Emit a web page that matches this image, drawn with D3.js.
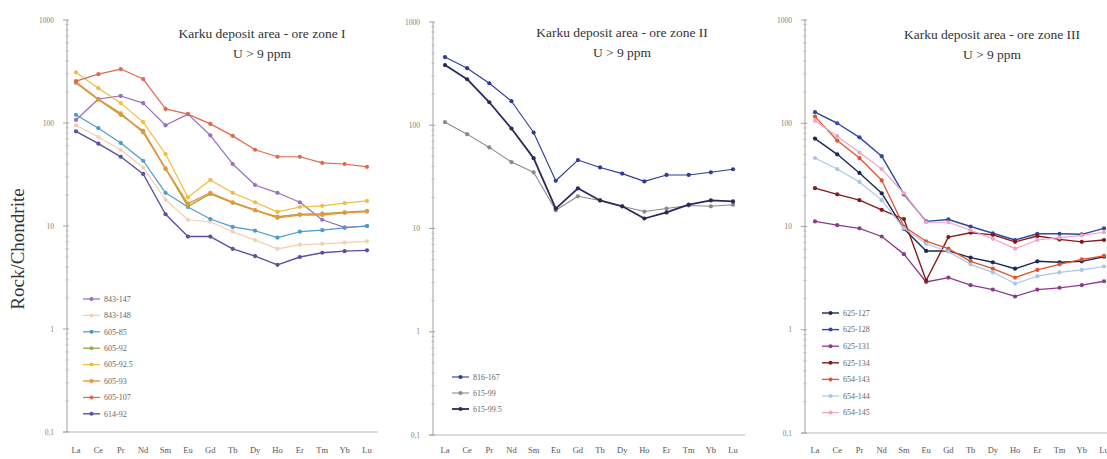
<!DOCTYPE html>
<html><head><meta charset="utf-8">
<script src="https://cdn.jsdelivr.net/npm/d3@7"></script>
<style>
html,body{margin:0;padding:0;background:#fff;}
svg{display:block;font-family:"Liberation Serif","DejaVu Serif",serif;}
</style></head>
<body><svg id="c" width="1107" height="459"></svg>
<script>
const elements = ["La","Ce","Pr","Nd","Sm","Eu","Gd","Tb","Dy","Ho","Er","Tm","Yb","Lu"];
const yTickValues = [0.1, 1, 10, 100, 1000];
const yTickLabels = ["0,1", "1", "10", "100", "1000"];

// Panel I
const zone1Names = ["843-147","843-148","605-85","605-92","605-92.5","605-93","605-107","614-92"];
const s843_147 = [107,171,183,156,95,122,76,40,25,21,17,11.5,9.7,10];
const s843_148 = [95,73,55,37,18,11.5,11,8.8,7.3,6,6.6,6.7,6.9,7.1];
const s605_85  = [120,89,64,43,21,15.3,11.7,9.8,9,7.7,8.8,9.1,9.6,10];
const s605_92  = [245,168,120,84,36,15.5,20.5,16.8,14.2,12.3,13,13.2,13.6,14];
const s605_925 = [310,218,156,102,50,19,28,21,17,13.7,15.3,15.7,16.7,17.5];
const s605_93  = [250,171,124,81,36,16.5,21,17,14.3,12,12.8,12.8,13.4,13.8];
const s605_107 = [255,298,334,267,137,122,98,75,55,47,47,41,40,37.5];
const s614_92  = [83,63,47,32,13,7.9,7.9,6,5.1,4.2,5,5.5,5.7,5.8];

// Panel II
const zone2Names = ["816-167","615-99","615-99.5"];
const s816_167 = [457,357,255,171,85,29,46,39,34,28.6,33,33,35,37.5];
const s615_99  = [107,82,61,44,35,15,20.5,18.7,16.4,14.6,15.6,16.7,16.4,17];
const s615_995 = [383,279,167,93,48,15.6,24.5,18.7,16.4,12.5,14.3,17,18.7,18.3];

// Panel III
const zone3Names = ["625-127","625-128","625-131","625-134","654-143","654-144","654-145"];
const s625_127 = [71,50,33,21,9.5,5.8,5.8,5.0,4.5,3.9,4.6,4.5,4.6,5.1];
const s625_128 = [128,100,73,48,20.5,11.2,11.7,10,8.6,7.4,8.5,8.5,8.4,9.6];
const s625_131 = [11.2,10.3,9.6,8,5.4,2.9,3.2,2.7,2.45,2.1,2.45,2.55,2.7,2.95];
const s625_134 = [23.5,20.5,18,14.5,11.8,3.0,7.9,8.7,8.3,7.1,8.1,7.5,7.1,7.4];
const s654_143 = [116,68,46,28,10,7.2,6.1,4.6,3.9,3.2,3.8,4.3,4.8,5.2];
const s654_144 = [46,36,27,18,9.6,6.8,5.7,4.3,3.6,2.8,3.3,3.6,3.8,4.1];
const s654_145 = [106,75,52,36,21,11,11,9.2,7.6,6.1,7.4,7.8,8.2,8.8];

const titles = ["Karku deposit area - ore zone I","Karku deposit area - ore zone II","Karku deposit area - ore zone III"];
const subtitle = "U > 9 ppm";

const panels = [
  {axisX:67, right:378, xL:76, xR:367, yTop:20, yBot:432, titleX:262, titleY:38,
   names:zone1Names, data:[s843_147,s843_148,s605_85,s605_92,s605_925,s605_93,s605_107,s614_92],
   colors:["#9a6cc4","#f6cfb0","#4a9ccc","#a3a84c","#f2bc3a","#ec9434","#e0684c","#5c4ea0"],
   widths:[1.2,1.2,1.2,1.4,1.2,1.4,1.2,1.4],
   legX:83, legY:299, legDy:16.4},
  {axisX:433, right:745, xL:445, xR:733, yTop:22, yBot:435, titleX:622, titleY:37,
   names:zone2Names, data:[s816_167,s615_99,s615_995],
   colors:["#2c3c98","#8a8a8a","#2a2a58"],
   widths:[1.1,1.1,1.8],
   legX:452, legY:377, legDy:16},
  {axisX:805, right:1107, xL:815, xR:1104, yTop:20, yBot:433, titleX:992, titleY:39,
   names:zone3Names, data:[s625_127,s625_128,s625_131,s625_134,s654_143,s654_144,s654_145],
   colors:["#1c2658","#2e4a9c","#8c3c8c","#8a1818","#e2522c","#a9c6ea","#f2a2c4"],
   widths:[1.4,1.4,1.3,1.4,1.3,1.2,1.2],
   legX:822, legY:313, legDy:16.6}
];

const svg = d3.select("#c");

panels.forEach((p, pi) => {
  const y = d3.scaleLog().domain([0.1, 1000]).range([p.yBot, p.yTop]);
  const x = d3.scalePoint().domain(elements).range([p.xL, p.xR]);
  const g = svg.append("g");

  g.append("line").attr("x1", p.axisX - 4).attr("x2", p.right)
    .attr("y1", p.yBot).attr("y2", p.yBot).attr("stroke", "#b8b8b8").attr("stroke-width", 1);
  g.append("line").attr("x1", p.axisX).attr("x2", p.axisX)
    .attr("y1", p.yTop).attr("y2", p.yBot).attr("stroke", "#a0a0a0").attr("stroke-width", 1);
  const minor = [];
  [0.1, 1, 10, 100].forEach(d => { for (let k = 2; k <= 9; k++) minor.push(d * k); });
  g.selectAll(".mt").data(minor).enter().append("line")
    .attr("x1", p.axisX - 1.5).attr("x2", p.axisX + 1.5)
    .attr("y1", d => y(d)).attr("y2", d => y(d)).attr("stroke", "#b0b0b0").attr("stroke-width", 0.8);
  g.selectAll(".Mt").data(yTickValues).enter().append("line")
    .attr("x1", p.axisX - 4).attr("x2", p.axisX + 2)
    .attr("y1", d => y(d)).attr("y2", d => y(d)).attr("stroke", "#a0a0a0").attr("stroke-width", 1);
  g.selectAll(".tl").data(yTickValues).enter().append("text")
    .attr("x", p.axisX - 13).attr("y", d => y(d) + 2.5).attr("text-anchor", "end")
    .attr("font-size", 7.5).attr("fill", "#808080")
    .text((d, i) => yTickLabels[i]);
  g.selectAll(".cl").data(elements).enter().append("text")
    .attr("x", d => x(d)).attr("y", 453).attr("text-anchor", "middle")
    .attr("font-size", 8.5).attr("fill", "#555").text(d => d);

  g.append("text").attr("x", p.titleX).attr("y", p.titleY).attr("text-anchor", "middle")
    .attr("font-size", 13.5).attr("fill", "#333").text(titles[pi]);
  g.append("text").attr("x", p.titleX).attr("y", p.titleY + 20).attr("text-anchor", "middle")
    .attr("font-size", 13.5).attr("fill", "#333").text(subtitle);

  const line = d3.line().x((d, i) => x(elements[i])).y(d => y(d));
  p.data.forEach((vals, si) => {
    const c = p.colors[si];
    g.append("path").attr("d", line(vals)).attr("fill", "none")
      .attr("stroke", c).attr("stroke-width", p.widths[si]).attr("stroke-linejoin", "round");
    g.selectAll(null).data(vals).enter().append("circle")
      .attr("cx", (d, i) => x(elements[i])).attr("cy", d => y(d)).attr("r", 2.1).attr("fill", c);
  });

  p.names.forEach((n, si) => {
    const ly = p.legY + si * p.legDy;
    const c = p.colors[si];
    g.append("line").attr("x1", p.legX).attr("x2", p.legX + 17).attr("y1", ly).attr("y2", ly)
      .attr("stroke", c).attr("stroke-width", p.widths[si]);
    g.append("circle").attr("cx", p.legX + 8.5).attr("cy", ly).attr("r", 2).attr("fill", c);
    g.append("text").attr("x", p.legX + 21).attr("y", ly + 2.8).attr("font-size", 8)
      .attr("fill", "#666").text(n);
  });
});

svg.append("text").attr("transform", "translate(24,249) rotate(-90)")
  .attr("text-anchor", "middle").attr("font-size", 19).attr("fill", "#333").text("Rock/Chondrite");
</script></body></html>
